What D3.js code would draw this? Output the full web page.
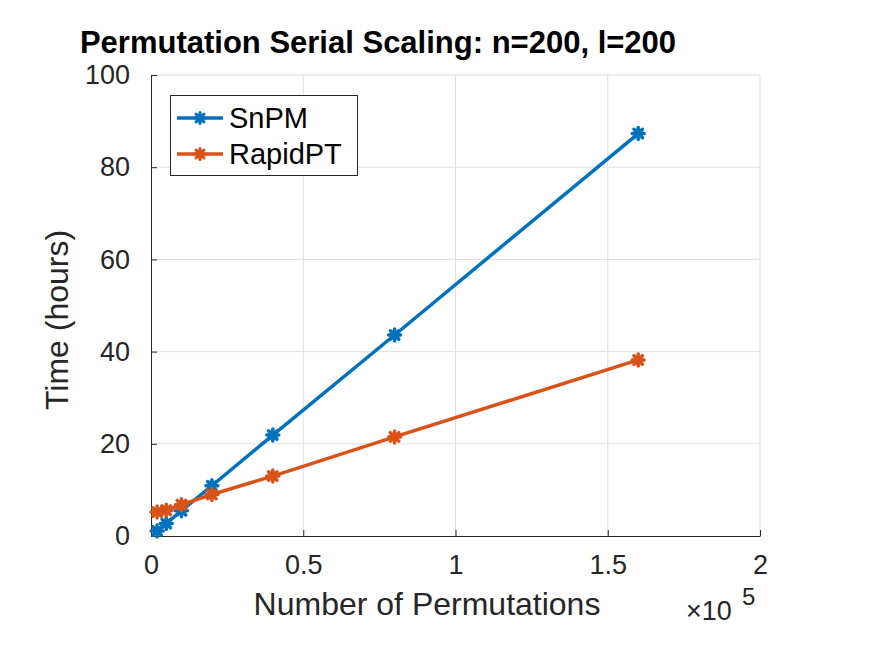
<!DOCTYPE html>
<html><head><meta charset="utf-8">
<script src="https://cdn.jsdelivr.net/npm/d3@7"></script>
<style>body{margin:0;background:#fff}svg{display:block}text{font-family:"Liberation Sans",Arial,sans-serif}</style>
</head><body>
<script>
const permutations = [2000, 5000, 10000, 20000, 40000, 80000, 160000];
const snpm = [1.1, 2.7, 5.5, 10.9, 21.9, 43.6, 87.3];
const rapidpt = [5.2, 5.6, 6.8, 9.0, 13.0, 21.5, 38.2];
const xTicks = [0, 50000, 100000, 150000, 200000];
const xTickLabels = ["0", "0.5", "1", "1.5", "2"];
const yTicks = [0, 20, 40, 60, 80, 100];
const seriesNames = ["SnPM", "RapidPT"];
const seriesColors = ["#0072BD", "#D95319"];

const W = 875, H = 657;
const svg = d3.select("body").append("svg").attr("width", W).attr("height", H);
const x = d3.scaleLinear().domain([0, 200000]).range([151, 760]);
const y = d3.scaleLinear().domain([0, 100]).range([536, 75]);
const axisColor = "#262626";

// grid
svg.append("g").selectAll("line").data(xTicks.slice(1)).join("line")
  .attr("x1", d => x(d)).attr("x2", d => x(d)).attr("y1", y(0)).attr("y2", y(100))
  .attr("stroke", "#dfdfdf").attr("stroke-width", 1);
svg.append("g").selectAll("line").data(yTicks.slice(1)).join("line")
  .attr("x1", x(0)).attr("x2", x(200000)).attr("y1", d => y(d)).attr("y2", d => y(d))
  .attr("stroke", "#dfdfdf").attr("stroke-width", 1);

// axes
const xAxis = d3.axisBottom(x).tickValues(xTicks).tickFormat((d, i) => xTickLabels[i]).tickSizeInner(-6).tickSizeOuter(0).tickPadding(19);
const gx = svg.append("g").attr("transform", `translate(0,${y(0)})`).call(xAxis);
const yAxis = d3.axisLeft(y).tickValues(yTicks).tickSizeInner(-6).tickSizeOuter(0).tickPadding(21);
const gy = svg.append("g").attr("transform", `translate(${x(0)},0)`).call(yAxis);
[gx, gy].forEach(g => {
  g.select(".domain").attr("stroke", axisColor).attr("stroke-width", 1);
  g.selectAll(".tick line").attr("stroke", axisColor);
  g.selectAll(".tick text").attr("fill", axisColor).style("font-size", "27px").style("font-family", "'Liberation Sans',Arial,sans-serif");
});
gx.selectAll(".tick text").attr("dy", "0.71em");

// asterisk marker
function asterisk(r) {
  const d = r * 0.7071;
  return `M${-r},0L${r},0M0,${-r}L0,${r}M${-d},${-d}L${d},${d}M${-d},${d}L${d},${-d}`;
}

const series = [snpm, rapidpt];
const line = d3.line().x((d, i) => x(permutations[i])).y(d => y(d));
series.forEach((vals, si) => {
  const g = svg.append("g");
  g.append("path").datum(vals).attr("d", line).attr("fill", "none")
    .attr("stroke", seriesColors[si]).attr("stroke-width", 3.5).attr("stroke-linejoin", "round");
  g.selectAll("path.m").data(vals).join("path").attr("class", "m")
    .attr("transform", (d, i) => `translate(${x(permutations[i])},${y(d)})`)
    .attr("d", asterisk(6)).attr("fill", "none").attr("stroke", seriesColors[si])
    .attr("stroke-width", 3.5).attr("stroke-linecap", "round");
  g.selectAll("circle.m").data(vals).join("circle").attr("class", "m")
    .attr("cx", (d, i) => x(permutations[i])).attr("cy", d => y(d)).attr("r", 4.5)
    .attr("fill", seriesColors[si]);
});

// legend
const lg = svg.append("g");
lg.append("rect").attr("x", 170.5).attr("y", 95.5).attr("width", 187).attr("height", 80)
  .attr("fill", "#fff").attr("stroke", axisColor).attr("stroke-width", 1);
seriesNames.forEach((name, i) => {
  const cy = 118 + i * 36;
  lg.append("line").attr("x1", 177).attr("x2", 223).attr("y1", cy).attr("y2", cy)
    .attr("stroke", seriesColors[i]).attr("stroke-width", 3.5);
  lg.append("path").attr("transform", `translate(200,${cy})`).attr("d", asterisk(5.5))
    .attr("fill", "none").attr("stroke", seriesColors[i]).attr("stroke-width", 3).attr("stroke-linecap", "round");
  lg.append("circle").attr("cx", 200).attr("cy", cy).attr("r", 4).attr("fill", seriesColors[i]);
  lg.append("text").attr("x", 229).attr("y", cy).attr("dy", "0.36em").attr("fill", "#000")
    .style("font-size", "29px").text(name);
});

// title
svg.append("text").attr("x", 378).attr("y", 53).attr("text-anchor", "middle")
  .style("font-size", "31px").style("font-weight", "bold").attr("fill", "#000")
  .text("Permutation Serial Scaling: n=200, l=200");

// axis labels
svg.append("text").attr("x", 427).attr("y", 615).attr("text-anchor", "middle")
  .style("font-size", "32px").attr("fill", axisColor).text("Number of Permutations");
svg.append("text").attr("transform", "translate(68,320) rotate(-90)").attr("text-anchor", "middle")
  .style("font-size", "32px").attr("fill", axisColor).text("Time (hours)");

// exponent
svg.append("text").attr("x", 686).attr("y", 620).attr("fill", axisColor).style("font-size", "27px").text("×10");
svg.append("text").attr("x", 742).attr("y", 605).attr("fill", axisColor).style("font-size", "24px").text("5");
</script>
</body></html>
